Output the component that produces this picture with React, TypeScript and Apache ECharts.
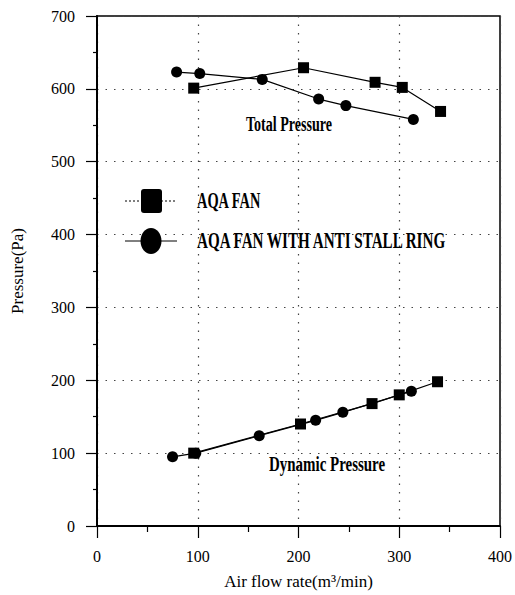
import React, { useEffect, useRef } from "react";
import * as echarts from "echarts";

const SERIES_AQA = "AQA FAN";
const SERIES_RING = "AQA FAN WITH ANTI STALL RING";

const totalAqaX = [96, 205, 276, 303, 341];
const totalAqaY = [601, 629, 609, 602, 569];
const totalRingX = [79, 102, 164, 220, 247, 314];
const totalRingY = [623, 621, 613, 586, 577, 558];

const dynAqaX = [96, 202, 273, 300, 338];
const dynAqaY = [100, 140, 168, 180, 198];
const dynRingX = [75, 98, 161, 217, 244, 312];
const dynRingY = [95, 100, 124, 145, 156, 185];

const xTicks = [0, 100, 200, 300, 400];
const yTicks = [0, 100, 200, 300, 400, 500, 600, 700];

const zip = (xs: number[], ys: number[]) => xs.map((x, i) => [x, ys[i]]);

const FONT = "Liberation Serif";

export default function App() {
  const ref = useRef<HTMLDivElement>(null);
  useEffect(() => {
    if (!ref.current) return;
    const chart = echarts.init(ref.current, null, { renderer: "svg" });
    const lineSeries = (name: string, xs: number[], ys: number[], symbol: string, size: number) => ({
      name,
      type: "line",
      data: zip(xs, ys),
      symbol,
      symbolSize: size,
      itemStyle: { color: "#000" },
      lineStyle: { color: "#000", width: 1.2 },
      z: 5,
    });
    const condText = (text: string, x: number, y: number, size: number, sx: number) => ({
      type: "text",
      x,
      y,
      scaleX: sx,
      style: {
        text,
        x: 0,
        y: 0,
        fontFamily: FONT,
        fontWeight: "bold",
        fontSize: size,
        fill: "#000",
        textAlign: "left",
        textVerticalAlign: "middle",
      },
      z: 20,
    });
    chart.setOption({
      animation: false,
      backgroundColor: "#fff",
      textStyle: { fontFamily: FONT },
      grid: {
        left: 97,
        right: 9,
        top: 16,
        bottom: 63,
        show: true,
        borderColor: "#000",
        borderWidth: 1.5,
      },
      xAxis: {
        type: "value",
        min: xTicks[0],
        max: xTicks[xTicks.length - 1],
        interval: 100,
        name: "Air flow rate(m³/min)",
        nameLocation: "middle",
        nameGap: 47,
        nameTextStyle: { fontFamily: FONT, fontSize: 17, color: "#000" },
        axisLine: { show: true, lineStyle: { color: "#000", width: 1.8 } },
        axisTick: { show: true, length: 12, lineStyle: { color: "#000", width: 1.2 } },
        minorTick: { show: true, splitNumber: 2, length: 6, lineStyle: { color: "#000", width: 1.2 } },
        axisLabel: { margin: 22, fontFamily: FONT, fontSize: 16, color: "#000" },
        splitLine: { show: true, lineStyle: { color: "#444", type: [1.5, 7], width: 1.2 } },
      },
      yAxis: {
        type: "value",
        min: yTicks[0],
        max: yTicks[yTicks.length - 1],
        interval: 100,
        name: "Pressure(Pa)",
        nameLocation: "middle",
        nameGap: 71,
        nameTextStyle: { fontFamily: FONT, fontSize: 17, color: "#000" },
        axisLine: { show: true, lineStyle: { color: "#000", width: 2 } },
        axisTick: { show: true, length: 11, lineStyle: { color: "#000", width: 1.2 } },
        minorTick: { show: true, splitNumber: 2, length: 4, lineStyle: { color: "#000", width: 1.2 } },
        axisLabel: { margin: 22, fontFamily: FONT, fontSize: 16, color: "#000" },
        splitLine: { show: true, lineStyle: { color: "#444", type: [1.5, 7], width: 1.2 } },
      },
      series: [
        lineSeries(SERIES_AQA, totalAqaX, totalAqaY, "rect", 11),
        lineSeries(SERIES_RING, totalRingX, totalRingY, "circle", 11),
        lineSeries(SERIES_AQA + " (dynamic)", dynAqaX, dynAqaY, "rect", 11),
        lineSeries(SERIES_RING + " (dynamic)", dynRingX, dynRingY, "circle", 11),
      ],
      graphic: [
        { type: "line", shape: { x1: 125, y1: 201, x2: 177, y2: 201 }, style: { stroke: "#000", lineWidth: 1, lineDash: [2, 2] }, z: 19 },
        { type: "rect", shape: { x: 141, y: 189, width: 21, height: 24, r: 3 }, style: { fill: "#000" }, z: 20 },
        { type: "line", shape: { x1: 125, y1: 241, x2: 177, y2: 241 }, style: { stroke: "#000", lineWidth: 1 }, z: 19 },
        { type: "ellipse", shape: { cx: 151, cy: 241, rx: 10.5, ry: 13 }, style: { fill: "#000" }, z: 20 },
        condText(SERIES_AQA, 197, 200, 24, 0.6),
        condText(SERIES_RING, 197, 240, 24, 0.63),
        condText("Total Pressure", 246, 124, 22, 0.64),
        condText("Dynamic Pressure", 269, 463, 22, 0.68),
      ],
    });
    return () => chart.dispose();
  }, []);
  return <div ref={ref} style={{ width: 515, height: 595, position: "absolute", left: 0, top: 0 }} />;
}
